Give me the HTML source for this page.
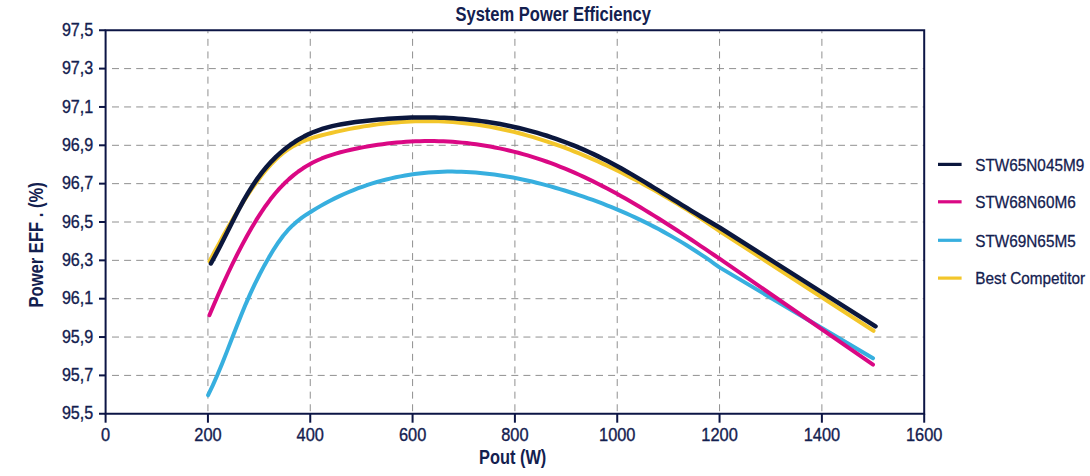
<!DOCTYPE html>
<html><head><meta charset="utf-8"><style>
html,body{margin:0;padding:0;background:#fff;}
svg{display:block;}
text{font-family:"Liberation Sans",sans-serif;fill:#13204f;}
.g{stroke:#909090;stroke-width:1.0;stroke-dasharray:7 5.1;}
.gv{stroke:#909090;stroke-width:1.0;stroke-dasharray:7 5.6;stroke-dashoffset:5;}
.yl{font-size:18.4px;text-anchor:end;stroke:#13204f;stroke-width:0.35;}
.xl{font-size:18.2px;text-anchor:middle;stroke:#13204f;stroke-width:0.35;}
.lg{font-size:17.3px;stroke:#13204f;stroke-width:0.3;}
.t{font-size:20px;font-weight:bold;}
</style></head><body>
<svg width="1090" height="476" viewBox="0 0 1090 476">
<line x1="112" y1="68.60" x2="924.20" y2="68.60" class="g"/><line x1="112" y1="106.95" x2="924.20" y2="106.95" class="g"/><line x1="112" y1="145.30" x2="924.20" y2="145.30" class="g"/><line x1="112" y1="183.65" x2="924.20" y2="183.65" class="g"/><line x1="112" y1="222.00" x2="924.20" y2="222.00" class="g"/><line x1="112" y1="260.35" x2="924.20" y2="260.35" class="g"/><line x1="112" y1="298.70" x2="924.20" y2="298.70" class="g"/><line x1="112" y1="337.05" x2="924.20" y2="337.05" class="g"/><line x1="112" y1="375.40" x2="924.20" y2="375.40" class="g"/><line x1="207.93" y1="31.25" x2="207.93" y2="413.75" class="gv"/><line x1="310.25" y1="31.25" x2="310.25" y2="413.75" class="gv"/><line x1="412.58" y1="31.25" x2="412.58" y2="413.75" class="gv"/><line x1="514.90" y1="31.25" x2="514.90" y2="413.75" class="gv"/><line x1="617.23" y1="31.25" x2="617.23" y2="413.75" class="gv"/><line x1="719.55" y1="31.25" x2="719.55" y2="413.75" class="gv"/><line x1="821.88" y1="31.25" x2="821.88" y2="413.75" class="gv"/><rect x="105.60" y="30.25" width="818.60" height="383.50" fill="none" stroke="#0c1545" stroke-width="2"/><line x1="99" y1="30.25" x2="105.60" y2="30.25" stroke="#0c1545" stroke-width="2"/><text transform="translate(93.2,35.95) scale(0.875,1)" class="yl">97,5</text><line x1="99" y1="68.60" x2="105.60" y2="68.60" stroke="#0c1545" stroke-width="2"/><text transform="translate(93.2,74.30) scale(0.875,1)" class="yl">97,3</text><line x1="99" y1="106.95" x2="105.60" y2="106.95" stroke="#0c1545" stroke-width="2"/><text transform="translate(93.2,112.65) scale(0.875,1)" class="yl">97,1</text><line x1="99" y1="145.30" x2="105.60" y2="145.30" stroke="#0c1545" stroke-width="2"/><text transform="translate(93.2,151.00) scale(0.875,1)" class="yl">96,9</text><line x1="99" y1="183.65" x2="105.60" y2="183.65" stroke="#0c1545" stroke-width="2"/><text transform="translate(93.2,189.35) scale(0.875,1)" class="yl">96,7</text><line x1="99" y1="222.00" x2="105.60" y2="222.00" stroke="#0c1545" stroke-width="2"/><text transform="translate(93.2,227.70) scale(0.875,1)" class="yl">96,5</text><line x1="99" y1="260.35" x2="105.60" y2="260.35" stroke="#0c1545" stroke-width="2"/><text transform="translate(93.2,266.05) scale(0.875,1)" class="yl">96,3</text><line x1="99" y1="298.70" x2="105.60" y2="298.70" stroke="#0c1545" stroke-width="2"/><text transform="translate(93.2,304.40) scale(0.875,1)" class="yl">96,1</text><line x1="99" y1="337.05" x2="105.60" y2="337.05" stroke="#0c1545" stroke-width="2"/><text transform="translate(93.2,342.75) scale(0.875,1)" class="yl">95,9</text><line x1="99" y1="375.40" x2="105.60" y2="375.40" stroke="#0c1545" stroke-width="2"/><text transform="translate(93.2,381.10) scale(0.875,1)" class="yl">95,7</text><line x1="99" y1="413.75" x2="105.60" y2="413.75" stroke="#0c1545" stroke-width="2"/><text transform="translate(93.2,419.45) scale(0.875,1)" class="yl">95,5</text><line x1="105.60" y1="413.75" x2="105.60" y2="422.7" stroke="#0c1545" stroke-width="2"/><text transform="translate(105.60,441.1) scale(0.9,1)" class="xl">0</text><line x1="207.93" y1="413.75" x2="207.93" y2="422.7" stroke="#0c1545" stroke-width="2"/><text transform="translate(207.93,441.1) scale(0.9,1)" class="xl">200</text><line x1="310.25" y1="413.75" x2="310.25" y2="422.7" stroke="#0c1545" stroke-width="2"/><text transform="translate(310.25,441.1) scale(0.9,1)" class="xl">400</text><line x1="412.58" y1="413.75" x2="412.58" y2="422.7" stroke="#0c1545" stroke-width="2"/><text transform="translate(412.58,441.1) scale(0.9,1)" class="xl">600</text><line x1="514.90" y1="413.75" x2="514.90" y2="422.7" stroke="#0c1545" stroke-width="2"/><text transform="translate(514.90,441.1) scale(0.9,1)" class="xl">800</text><line x1="617.23" y1="413.75" x2="617.23" y2="422.7" stroke="#0c1545" stroke-width="2"/><text transform="translate(617.23,441.1) scale(0.9,1)" class="xl">1000</text><line x1="719.55" y1="413.75" x2="719.55" y2="422.7" stroke="#0c1545" stroke-width="2"/><text transform="translate(719.55,441.1) scale(0.9,1)" class="xl">1200</text><line x1="821.88" y1="413.75" x2="821.88" y2="422.7" stroke="#0c1545" stroke-width="2"/><text transform="translate(821.88,441.1) scale(0.9,1)" class="xl">1400</text><line x1="924.20" y1="413.75" x2="924.20" y2="422.7" stroke="#0c1545" stroke-width="2"/><text transform="translate(924.20,441.1) scale(0.9,1)" class="xl">1600</text>
<path d="M209.50,261.31 L214.18,252.51 L218.86,243.85 L223.54,235.33 L228.22,227.00 L232.89,218.89 L237.57,211.02 L242.25,203.42 L246.93,196.12 L251.61,189.15 L256.29,182.54 L260.97,176.32 L265.65,170.52 L270.33,165.16 L275.00,160.28 L279.68,155.90 L284.36,152.05 L289.04,148.72 L293.72,145.86 L298.40,143.40 L303.08,141.29 L307.76,139.48 L312.44,137.92 L317.11,136.53 L321.79,135.28 L326.47,134.09 L331.15,132.96 L335.83,131.88 L340.51,130.84 L345.19,129.85 L349.87,128.91 L354.55,128.03 L359.22,127.19 L363.90,126.40 L368.58,125.67 L373.26,124.99 L377.94,124.36 L382.62,123.79 L387.30,123.27 L391.98,122.81 L396.66,122.40 L401.33,122.05 L406.01,121.75 L410.69,121.52 L415.37,121.34 L420.05,121.22 L424.73,121.16 L429.41,121.16 L434.09,121.22 L438.77,121.34 L443.44,121.53 L448.12,121.78 L452.80,122.09 L457.48,122.46 L462.16,122.90 L466.84,123.41 L471.52,123.97 L476.20,124.60 L480.88,125.30 L485.56,126.06 L490.23,126.87 L494.91,127.75 L499.59,128.69 L504.27,129.70 L508.95,130.76 L513.63,131.87 L518.31,133.05 L522.99,134.29 L527.67,135.58 L532.34,136.93 L537.02,138.33 L541.70,139.79 L546.38,141.31 L551.06,142.88 L555.74,144.50 L560.42,146.18 L565.10,147.91 L569.78,149.69 L574.45,151.52 L579.13,153.41 L583.81,155.34 L588.49,157.32 L593.17,159.36 L597.85,161.44 L602.53,163.57 L607.21,165.75 L611.89,167.97 L616.56,170.24 L621.24,172.57 L625.92,174.94 L630.60,177.36 L635.28,179.82 L639.96,182.32 L644.64,184.87 L649.32,187.46 L654.00,190.09 L658.67,192.76 L663.35,195.48 L668.03,198.23 L672.71,201.02 L677.39,203.85 L682.07,206.72 L686.75,209.63 L691.43,212.58 L696.11,215.56 L700.78,218.58 L705.46,221.63 L710.14,224.72 L714.82,227.84 L719.50,231.00 L873.50,330.80" stroke="#f3c62a" stroke-width="4" fill="none" stroke-linecap="round" stroke-linejoin="round"/><path d="M208.10,395.14 L212.79,385.41 L217.48,374.77 L222.18,363.43 L226.87,351.62 L231.56,339.59 L236.25,327.54 L240.94,315.72 L245.63,304.35 L250.33,293.64 L255.02,283.63 L259.71,274.25 L264.40,265.43 L269.09,257.11 L273.78,249.34 L278.48,242.20 L283.17,235.78 L287.86,230.19 L292.55,225.39 L297.24,221.27 L301.93,217.67 L306.63,214.44 L311.32,211.45 L316.01,208.59 L320.70,205.86 L325.39,203.25 L330.09,200.77 L334.78,198.40 L339.47,196.14 L344.16,194.00 L348.85,191.97 L353.54,190.05 L358.24,188.24 L362.93,186.53 L367.62,184.92 L372.31,183.41 L377.00,182.00 L381.69,180.68 L386.39,179.46 L391.08,178.33 L395.77,177.30 L400.46,176.35 L405.15,175.50 L409.84,174.73 L414.54,174.05 L419.23,173.46 L423.92,172.95 L428.61,172.52 L433.30,172.17 L438.00,171.91 L442.69,171.73 L447.38,171.62 L452.07,171.59 L456.76,171.63 L461.45,171.75 L466.15,171.95 L470.84,172.21 L475.53,172.54 L480.22,172.95 L484.91,173.42 L489.60,173.95 L494.30,174.56 L498.99,175.22 L503.68,175.95 L508.37,176.74 L513.06,177.59 L517.76,178.50 L522.45,179.46 L527.14,180.48 L531.83,181.56 L536.52,182.69 L541.21,183.87 L545.91,185.10 L550.60,186.38 L555.29,187.71 L559.98,189.09 L564.67,190.51 L569.36,191.98 L574.06,193.49 L578.75,195.04 L583.44,196.63 L588.13,198.27 L592.82,199.95 L597.51,201.68 L602.21,203.45 L606.90,205.27 L611.59,207.14 L616.28,209.06 L620.97,211.06 L625.67,213.12 L630.36,215.23 L635.05,217.39 L639.74,219.61 L644.43,221.90 L649.12,224.24 L653.82,226.64 L658.51,229.10 L663.20,231.63 L667.89,234.22 L672.58,236.88 L677.27,239.61 L681.97,242.40 L686.66,245.27 L691.35,248.21 L696.04,251.22 L700.73,254.30 L705.42,257.46 L710.12,260.69 L714.81,264.01 L719.50,267.40 L873.00,358.30" stroke="#37afdf" stroke-width="4" fill="none" stroke-linecap="round" stroke-linejoin="round"/><path d="M209.40,315.16 L214.08,304.19 L218.76,293.50 L223.44,283.10 L228.12,273.01 L232.80,263.25 L237.48,253.85 L242.16,244.82 L246.84,236.19 L251.52,227.97 L256.20,220.18 L260.88,212.85 L265.56,205.98 L270.24,199.62 L274.92,193.76 L279.60,188.41 L284.28,183.54 L288.96,179.12 L293.64,175.13 L298.32,171.52 L303.00,168.29 L307.68,165.39 L312.36,162.81 L317.04,160.51 L321.72,158.47 L326.40,156.65 L331.08,155.04 L335.76,153.60 L340.43,152.30 L345.11,151.12 L349.79,150.03 L354.47,149.01 L359.15,148.05 L363.83,147.15 L368.51,146.31 L373.19,145.53 L377.87,144.81 L382.55,144.15 L387.23,143.56 L391.91,143.03 L396.59,142.56 L401.27,142.15 L405.95,141.81 L410.63,141.53 L415.31,141.31 L419.99,141.15 L424.67,141.06 L429.35,141.03 L434.03,141.07 L438.71,141.17 L443.39,141.33 L448.07,141.56 L452.75,141.85 L457.43,142.21 L462.11,142.63 L466.79,143.11 L471.47,143.67 L476.15,144.28 L480.83,144.97 L485.51,145.71 L490.19,146.53 L494.87,147.41 L499.55,148.36 L504.23,149.37 L508.91,150.45 L513.59,151.59 L518.27,152.81 L522.95,154.09 L527.63,155.44 L532.31,156.85 L536.99,158.34 L541.67,159.89 L546.35,161.51 L551.03,163.19 L555.71,164.95 L560.39,166.78 L565.07,168.67 L569.75,170.63 L574.43,172.66 L579.11,174.75 L583.79,176.90 L588.47,179.12 L593.14,181.39 L597.82,183.72 L602.50,186.11 L607.18,188.55 L611.86,191.04 L616.54,193.58 L621.22,196.19 L625.90,198.84 L630.58,201.54 L635.26,204.29 L639.94,207.07 L644.62,209.89 L649.30,212.75 L653.98,215.64 L658.66,218.56 L663.34,221.52 L668.02,224.50 L672.70,227.51 L677.38,230.55 L682.06,233.61 L686.74,236.69 L691.42,239.79 L696.10,242.91 L700.78,246.04 L705.46,249.19 L710.14,252.35 L714.82,255.52 L719.50,258.70 L873.00,364.70" stroke="#da0884" stroke-width="4" fill="none" stroke-linecap="round" stroke-linejoin="round"/><path d="M210.90,263.48 L215.57,254.91 L220.23,245.95 L224.90,236.74 L229.56,227.45 L234.23,218.23 L238.90,209.24 L243.56,200.65 L248.23,192.60 L252.89,185.19 L257.56,178.40 L262.23,172.19 L266.89,166.52 L271.56,161.35 L276.22,156.65 L280.89,152.37 L285.56,148.48 L290.22,144.96 L294.89,141.78 L299.56,138.92 L304.22,136.36 L308.89,134.08 L313.55,132.06 L318.22,130.28 L322.89,128.71 L327.55,127.34 L332.22,126.15 L336.88,125.11 L341.55,124.20 L346.22,123.41 L350.88,122.71 L355.55,122.08 L360.21,121.49 L364.88,120.95 L369.55,120.44 L374.21,119.97 L378.88,119.53 L383.54,119.14 L388.21,118.78 L392.88,118.46 L397.54,118.19 L402.21,117.95 L406.87,117.76 L411.54,117.62 L416.21,117.51 L420.87,117.45 L425.54,117.44 L430.20,117.47 L434.87,117.55 L439.54,117.68 L444.20,117.86 L448.87,118.09 L453.53,118.36 L458.20,118.69 L462.87,119.07 L467.53,119.51 L472.20,120.00 L476.87,120.54 L481.53,121.14 L486.20,121.79 L490.86,122.50 L495.53,123.27 L500.20,124.09 L504.86,124.98 L509.53,125.93 L514.19,126.93 L518.86,128.00 L523.53,129.13 L528.19,130.33 L532.86,131.59 L537.52,132.91 L542.19,134.30 L546.86,135.76 L551.52,137.28 L556.19,138.87 L560.85,140.53 L565.52,142.26 L570.19,144.06 L574.85,145.93 L579.52,147.87 L584.18,149.89 L588.85,151.98 L593.52,154.15 L598.18,156.38 L602.85,158.68 L607.51,161.05 L612.18,163.48 L616.85,165.96 L621.51,168.55 L626.18,171.20 L630.84,173.89 L635.51,176.61 L640.18,179.38 L644.84,182.17 L649.51,184.98 L654.18,187.82 L658.84,190.68 L663.51,193.55 L668.17,196.42 L672.84,199.31 L677.51,202.19 L682.17,205.07 L686.84,207.95 L691.50,210.81 L696.17,213.65 L700.84,216.48 L705.50,219.28 L710.17,222.05 L714.83,224.80 L719.50,227.50 L875.50,326.30" stroke="#0b173d" stroke-width="4.5" fill="none" stroke-linecap="round" stroke-linejoin="round"/>
<line x1="938" y1="164.4" x2="961.6" y2="164.4" stroke="#0b173d" stroke-width="3.2"/><text transform="translate(975.3,170.70) scale(0.885,1)" class="lg">STW65N045M9</text><line x1="938" y1="201.8" x2="961.6" y2="201.8" stroke="#da0884" stroke-width="3.2"/><text transform="translate(975.3,208.10) scale(0.885,1)" class="lg">STW68N60M6</text><line x1="938" y1="240.3" x2="961.6" y2="240.3" stroke="#37afdf" stroke-width="3.2"/><text transform="translate(975.3,246.60) scale(0.885,1)" class="lg">STW69N65M5</text><line x1="938" y1="278.1" x2="961.6" y2="278.1" stroke="#f3c62a" stroke-width="3.2"/><text transform="translate(975.3,284.40) scale(0.885,1)" class="lg">Best Competitor</text>
<text transform="translate(455.5,21) scale(0.826,1)" class="t">System Power Efficiency</text>
<text transform="translate(479,463.5) scale(0.82,1)" class="t">Pout (W)</text>
<text transform="translate(42.7,307.5) rotate(-90) scale(0.83,1)" class="t">Power EFF . (%)</text>
</svg></body></html>
